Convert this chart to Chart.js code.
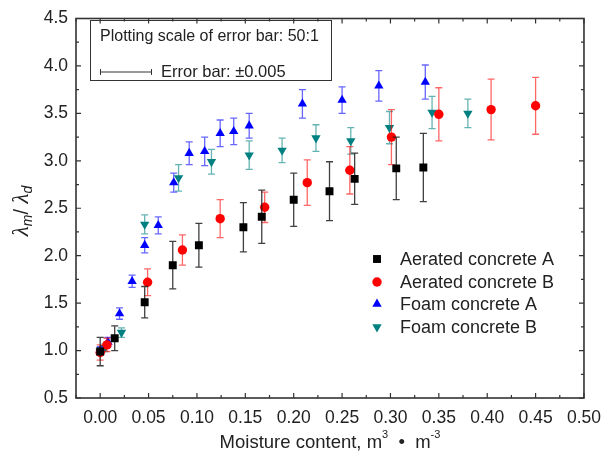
<!DOCTYPE html>
<html>
<head>
<meta charset="utf-8">
<script src="https://cdn.jsdelivr.net/npm/chart.js@4.4.1/dist/chart.umd.min.js"></script>
<style>
  html, body { margin: 0; padding: 0; background: #ffffff; }
  #wrap { width: 611px; height: 459px; }
</style>
</head>
<body>
<div id="wrap"><canvas id="c" width="611" height="459"></canvas></div>
<script>
// Axis ticks
const xTickValues = [0, 0.05, 0.10, 0.15, 0.20, 0.25, 0.30, 0.35, 0.40, 0.45, 0.50];
const xTickLabels = ['0.00', '0.05', '0.10', '0.15', '0.20', '0.25', '0.30', '0.35', '0.40', '0.45', '0.50'];
const yTickValues = [0.5, 1.0, 1.5, 2.0, 2.5, 3.0, 3.5, 4.0, 4.5];
const yTickLabels = ['0.5', '1.0', '1.5', '2.0', '2.5', '3.0', '3.5', '4.0', '4.5'];

// Series names
const seriesNames = ['Aerated concrete A', 'Aerated concrete B', 'Foam concrete A', 'Foam concrete B'];

// Aerated concrete A
const aeratedA_x   = [0.000, 0.015, 0.046, 0.075, 0.102, 0.148, 0.167, 0.200, 0.237, 0.263, 0.306, 0.334];
const aeratedA_y   = [0.99, 1.13, 1.51, 1.90, 2.11, 2.30, 2.41, 2.59, 2.68, 2.81, 2.92, 2.93];
const aeratedA_err = [0.15, 0.13, 0.165, 0.25, 0.23, 0.26, 0.28, 0.28, 0.31, 0.27, 0.33, 0.36];

// Aerated concrete B
const aeratedB_x   = [0.000, 0.007, 0.049, 0.085, 0.124, 0.170, 0.214, 0.258, 0.301, 0.350, 0.404, 0.450];
const aeratedB_y   = [0.98, 1.06, 1.72, 2.06, 2.39, 2.51, 2.77, 2.90, 3.25, 3.49, 3.54, 3.58];
const aeratedB_err = [0.08, 0.07, 0.14, 0.16, 0.20, 0.16, 0.24, 0.25, 0.29, 0.28, 0.32, 0.30];

// Foam concrete A
const foamA_x   = [0.000, 0.008, 0.020, 0.033, 0.046, 0.060, 0.076, 0.092, 0.108, 0.124, 0.138, 0.154, 0.209, 0.250, 0.288, 0.336];
const foamA_y   = [1.00, 1.09, 1.39, 1.73, 2.11, 2.32, 2.77, 3.08, 3.10, 3.29, 3.31, 3.37, 3.60, 3.64, 3.79, 3.83];
const foamA_err = [0.04, 0.05, 0.06, 0.065, 0.08, 0.09, 0.10, 0.12, 0.15, 0.14, 0.14, 0.13, 0.15, 0.14, 0.16, 0.18];

// Foam concrete B
const foamB_x   = [0.000, 0.005, 0.022, 0.046, 0.081, 0.115, 0.154, 0.188, 0.223, 0.259, 0.299, 0.343, 0.380];
const foamB_y   = [0.99, 1.03, 1.19, 2.33, 2.82, 2.99, 3.06, 3.11, 3.24, 3.21, 3.35, 3.51, 3.50];
const foamB_err = [0.04, 0.04, 0.05, 0.10, 0.14, 0.13, 0.15, 0.13, 0.14, 0.14, 0.17, 0.17, 0.15];

// Inset note
const noteLine1 = 'Plotting scale of error bar: 50:1';
const noteLine2 = 'Error bar: \u00b10.005';

const FONT = '"Liberation Sans", Arial, sans-serif';
const TEXT = '#222222';

function pts(xs, ys) { return xs.map((x, i) => ({ x: x, y: ys[i] })); }

const datasets = [
  { label: seriesNames[0], data: pts(aeratedA_x, aeratedA_y), errors: aeratedA_err,
    backgroundColor: '#000000', errorColor: 'rgba(30,30,30,0.85)',
    pointStyle: 'rect', pointRadius: 5.6, pointRotation: 0 },
  { label: seriesNames[1], data: pts(aeratedB_x, aeratedB_y), errors: aeratedB_err,
    backgroundColor: '#ff0000', errorColor: 'rgba(255,0,0,0.6)',
    pointStyle: 'circle', pointRadius: 4.7, pointRotation: 0 },
  { label: seriesNames[2], data: pts(foamA_x, foamA_y), errors: foamA_err,
    backgroundColor: '#0000ff', errorColor: 'rgba(0,0,255,0.6)',
    pointStyle: 'triangle', pointRadius: 5.4, pointRotation: 0 },
  { label: seriesNames[3], data: pts(foamB_x, foamB_y), errors: foamB_err,
    backgroundColor: '#008080', errorColor: 'rgba(0,128,128,0.6)',
    pointStyle: 'triangle', pointRadius: 5.4, pointRotation: 180 }
];
datasets.forEach(d => { d.borderWidth = 0; d.pointBorderWidth = 0; d.pointHoverRadius = d.pointRadius; d.showLine = false; });

// Vertical error bars with caps, drawn just before each dataset's markers
const errorBarPlugin = {
  id: 'errorBars',
  beforeDatasetDraw(chart, args) {
    const ds = chart.data.datasets[args.index];
    const ys = chart.scales.y;
    const ctx = chart.ctx;
    ctx.save();
    ctx.strokeStyle = ds.errorColor;
    ctx.lineWidth = 1.3;
    args.meta.data.forEach((el, i) => {
      const v = ds.data[i].y, e = ds.errors[i];
      const t = ys.getPixelForValue(v + e), b = ys.getPixelForValue(v - e);
      const x = el.x, cap = 3.5;
      ctx.beginPath();
      ctx.moveTo(x, t); ctx.lineTo(x, b);
      ctx.moveTo(x - cap, t); ctx.lineTo(x + cap, t);
      ctx.moveTo(x - cap, b); ctx.lineTo(x + cap, b);
      ctx.stroke();
    });
    ctx.restore();
  }
};

function markerPath(ctx, style, rotation, x, y, r) {
  ctx.beginPath();
  if (style === 'rect') {
    const s = Math.SQRT1_2 * r;
    ctx.rect(x - s, y - s, 2 * s, 2 * s);
  } else if (style === 'circle') {
    ctx.arc(x, y, r, 0, Math.PI * 2);
  } else {
    let rad = rotation * Math.PI / 180;
    ctx.moveTo(x + Math.sin(rad) * r, y - Math.cos(rad) * r);
    rad += 2 * Math.PI / 3;
    ctx.lineTo(x + Math.sin(rad) * r, y - Math.cos(rad) * r);
    rad += 2 * Math.PI / 3;
    ctx.lineTo(x + Math.sin(rad) * r, y - Math.cos(rad) * r);
    ctx.closePath();
  }
}

// Frame, inward ticks, axis titles, inset note and legend
const decorPlugin = {
  id: 'decor',
  afterDatasetsDraw(chart) {
    const ctx = chart.ctx;
    const a = chart.chartArea;
    const xs = chart.scales.x, ys = chart.scales.y;
    ctx.save();

    // frame
    ctx.strokeStyle = '#333333';
    ctx.lineWidth = 1.6;
    ctx.strokeRect(a.left, a.top, a.right - a.left, a.bottom - a.top);

    // ticks on all four sides (major + minor halfway)
    ctx.lineWidth = 1.2;
    ctx.beginPath();
    for (let i = 0; i < xTickValues.length; i++) {
      const px = xs.getPixelForValue(xTickValues[i]);
      ctx.moveTo(px, a.bottom); ctx.lineTo(px, a.bottom - 5);
      ctx.moveTo(px, a.top); ctx.lineTo(px, a.top + 5);
      const m = xs.getPixelForValue(xTickValues[i] - 0.025);
      ctx.moveTo(m, a.bottom); ctx.lineTo(m, a.bottom - 3);
      ctx.moveTo(m, a.top); ctx.lineTo(m, a.top + 3);
    }
    for (let i = 0; i < yTickValues.length; i++) {
      const py = ys.getPixelForValue(yTickValues[i]);
      ctx.moveTo(a.left, py); ctx.lineTo(a.left + 5, py);
      ctx.moveTo(a.right, py); ctx.lineTo(a.right - 5, py);
      if (i > 0) {
        const m = ys.getPixelForValue(yTickValues[i] - 0.25);
        ctx.moveTo(a.left, m); ctx.lineTo(a.left + 3, m);
        ctx.moveTo(a.right, m); ctx.lineTo(a.right - 3, m);
      }
    }
    ctx.stroke();

    // x axis title with superscripts
    ctx.fillStyle = TEXT;
    ctx.textBaseline = 'alphabetic';
    const tMain = 'Moisture content, m';
    const tSup1 = '3';
    const tMid = '  \u2022  m';
    const tSup2 = '-3';
    ctx.font = '18.5px ' + FONT;
    const w1 = ctx.measureText(tMain).width, w3 = ctx.measureText(tMid).width;
    ctx.font = '11px ' + FONT;
    const w2 = ctx.measureText(tSup1).width, w4 = ctx.measureText(tSup2).width;
    let tx = (a.left + a.right) / 2 - (w1 + w2 + w3 + w4) / 2;
    const ty = 448;
    ctx.font = '18.5px ' + FONT; ctx.textAlign = 'left';
    ctx.fillText(tMain, tx, ty); tx += w1;
    ctx.font = '11px ' + FONT; ctx.fillText(tSup1, tx, ty - 10); tx += w2;
    ctx.font = '18.5px ' + FONT; ctx.fillText(tMid, tx, ty); tx += w3;
    ctx.font = '11px ' + FONT; ctx.fillText(tSup2, tx, ty - 10);

    // y axis title: lambda_m / lambda_d, rotated
    ctx.save();
    ctx.translate(28, 211);
    ctx.rotate(-Math.PI / 2);
    const gFont = 'italic 23px "Liberation Serif", "DejaVu Serif", serif';
    const sFont = 'italic 14px "Liberation Sans", Arial, sans-serif';
    const parts = [
      { t: '\u03bb', f: gFont, dy: 0 },
      { t: 'm', f: sFont, dy: 4 },
      { t: '/ ', f: '20px ' + FONT, dy: 0 },
      { t: '\u03bb', f: gFont, dy: 0 },
      { t: 'd', f: sFont, dy: 4 }
    ];
    let total = 0;
    parts.forEach(p => { ctx.font = p.f; p.w = ctx.measureText(p.t).width; total += p.w; });
    let px = -total / 2;
    parts.forEach(p => { ctx.font = p.f; ctx.fillText(p.t, px, p.dy); px += p.w; });
    ctx.restore();

    // inset note box
    ctx.strokeStyle = '#333333';
    ctx.lineWidth = 1;
    ctx.strokeRect(90.5, 20.5, 241, 60);
    ctx.font = '16px ' + FONT;
    ctx.textBaseline = 'middle';
    ctx.fillText(noteLine1, 100, 37);
    ctx.font = '16.5px ' + FONT;
    ctx.fillText(noteLine2, 161, 72);
    ctx.beginPath();
    ctx.moveTo(100, 72); ctx.lineTo(152, 72);
    ctx.moveTo(100.5, 69); ctx.lineTo(100.5, 75);
    ctx.moveTo(151.5, 69); ctx.lineTo(151.5, 75);
    ctx.stroke();

    // legend
    const lx = 377, tx0 = 400, rows = [259, 282, 304, 327];
    ctx.font = '18px ' + FONT;
    chart.data.datasets.forEach((d, i) => {
      ctx.fillStyle = d.backgroundColor;
      markerPath(ctx, d.pointStyle, d.pointRotation, lx, rows[i], d.pointRadius);
      ctx.fill();
      ctx.fillStyle = TEXT;
      ctx.fillText(d.label, tx0, rows[i] + 1);
    });
    ctx.restore();
  }
};

new Chart(document.getElementById('c'), {
  type: 'scatter',
  data: { datasets: datasets },
  plugins: [errorBarPlugin, decorPlugin],
  options: {
    responsive: false,
    animation: false,
    events: [],
    layout: { padding: { left: 0, top: 15, right: 21, bottom: 0 } },
    plugins: { legend: { display: false }, tooltip: { enabled: false } },
    scales: {
      x: {
        type: 'linear', min: -0.025, max: 0.5,
        grid: { display: false, drawTicks: false },
        border: { display: false },
        afterBuildTicks: s => { s.ticks = xTickValues.map(v => ({ value: v })); },
        afterFit: s => { s.height = 61; },
        ticks: {
          callback: (v, i) => xTickLabels[i],
          font: { family: FONT, size: 17.5 }, color: TEXT, padding: 10,
          maxRotation: 0, autoSkip: false
        }
      },
      y: {
        type: 'linear', min: 0.5, max: 4.5,
        grid: { display: false, drawTicks: false },
        border: { display: false },
        afterBuildTicks: s => { s.ticks = yTickValues.map(v => ({ value: v })); },
        afterFit: s => { s.width = 76; },
        ticks: {
          callback: (v, i) => yTickLabels[i],
          font: { family: FONT, size: 17.5 }, color: TEXT, padding: 8,
          autoSkip: false
        }
      }
    }
  }
});
</script>
</body>
</html>
